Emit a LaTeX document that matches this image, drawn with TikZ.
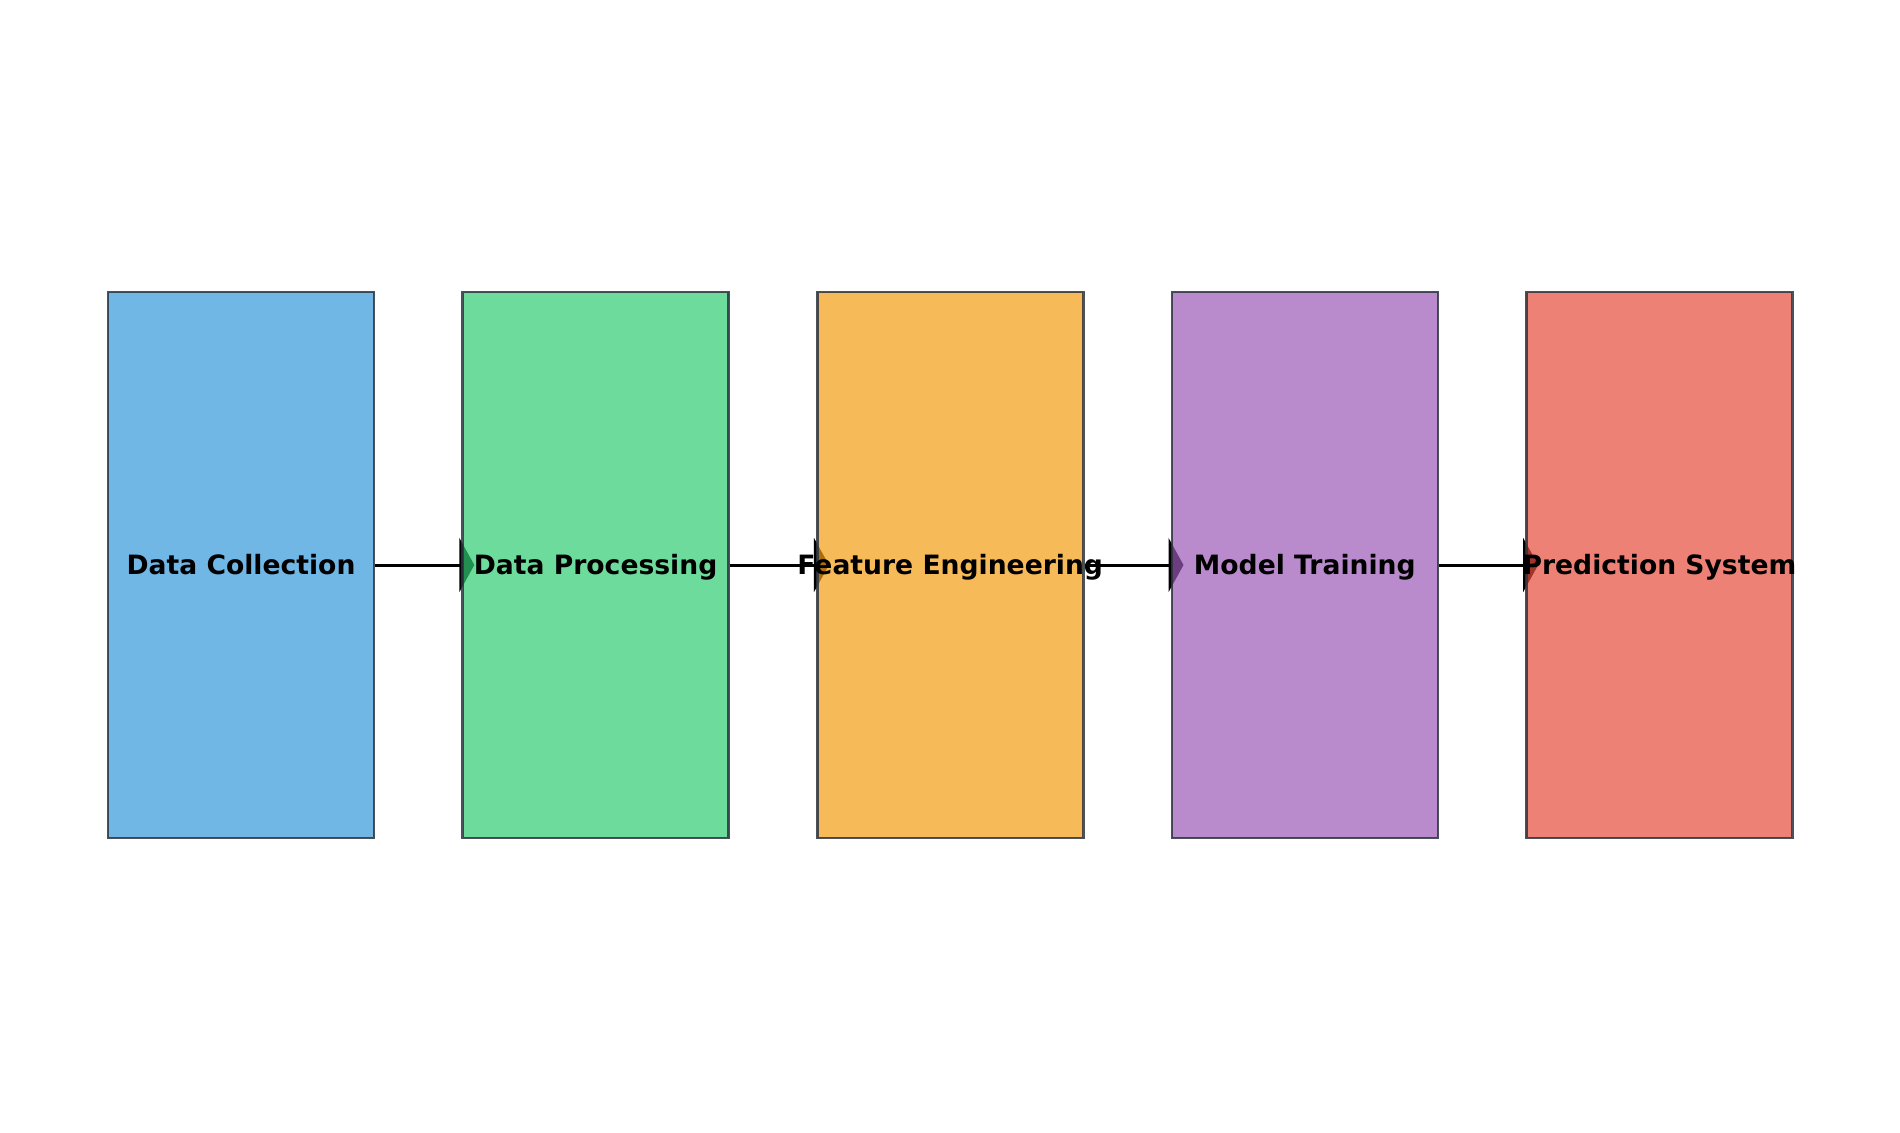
\documentclass[tikz,border=0pt]{standalone}
\usepackage{fontspec}
\setmainfont{DejaVu Sans}
\usepackage{tikz}
\usetikzlibrary{arrows.meta,positioning}
\pgfdeclarelayer{back}
\pgfsetlayers{back,main}

\definecolor{cblue}{HTML}{3498DB}
\definecolor{cgreen}{HTML}{2ECC71}
\definecolor{corange}{HTML}{F39C12}
\definecolor{cpurple}{HTML}{9B59B6}
\definecolor{cred}{HTML}{E74C3C}
\definecolor{cedge}{HTML}{2C3440}

% label may stick out of its box
\newcommand{\stagetext}[1]{\makebox[0pt]{#1}}

\begin{document}
\begin{tikzpicture}[
      x=0.5pt, y=-0.5pt,
      node distance=43pt,
      stage/.style={draw=cedge, draw opacity=0.85, fill opacity=0.7, text opacity=1,
        line width=1.3pt, minimum width=133pt, minimum height=273pt, inner sep=0pt,
        text height=10pt, text depth=0.8pt,
        font=\fontsize{13.3}{16}\selectfont\bfseries},
      flow/.style={line width=1.5pt, -{Triangle[width=27pt,length=7.5pt]}, shorten >=-6.5pt}
    ]
    \useasboundingbox (0,0) rectangle (1900,1132);

    \node[stage, fill=cblue] (collect) at (241,565) {\stagetext{Data Collection}};
    \node[stage, fill=cgreen, right=of collect] (process) {\stagetext{Data Processing}};
    \node[stage, fill=corange, right=of process] (feature) {\stagetext{Feature Engineering}};
    \node[stage, fill=cpurple, right=of feature] (train) {\stagetext{Model Training}};
    \node[stage, fill=cred, right=of train] (predict) {\stagetext{Prediction System}};

    \begin{pgfonlayer}{back}
      \draw[flow] (collect.east) -- (process.west);
      \draw[flow] (process.east) -- (feature.west);
      \draw[flow] (feature.east) -- (train.west);
      \draw[flow] (train.east) -- (predict.west);
    \end{pgfonlayer}
  \end{tikzpicture}
\end{document}
